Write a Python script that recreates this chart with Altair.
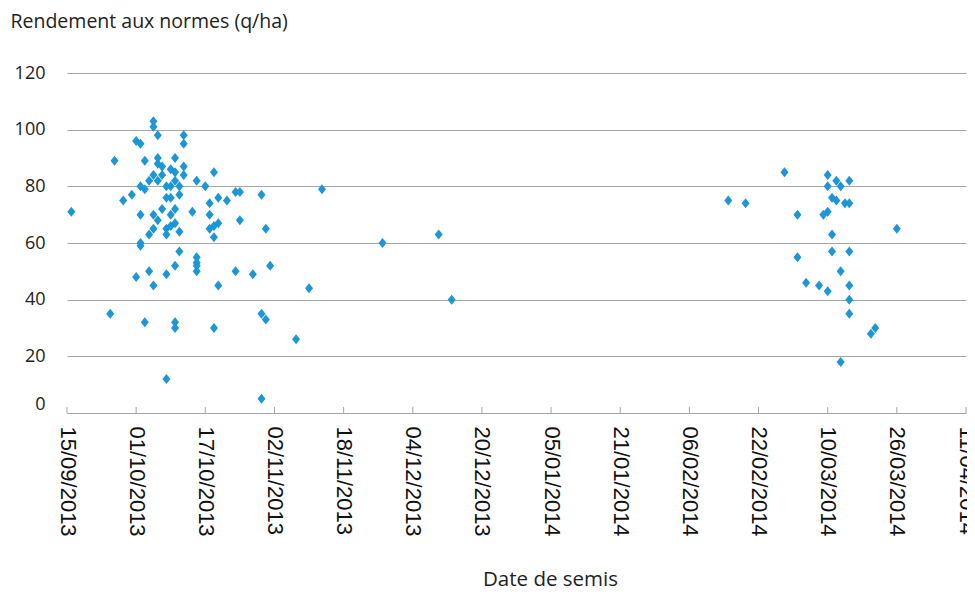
import altair as alt
import pandas as pd

# Sowing dates and yields
sow_dates = [
    "2013-09-16", "2013-09-26", "2013-09-25", "2013-09-28", "2013-09-30",
    "2013-10-01", "2013-10-02", "2013-10-02", "2013-10-03", "2013-10-03",
    "2013-10-02", "2013-10-02", "2013-10-02", "2013-10-01", "2013-10-03",
    "2013-10-04", "2013-10-04", "2013-10-04", "2013-10-05", "2013-10-05",
    "2013-10-05", "2013-10-05", "2013-10-05", "2013-10-05", "2013-10-06",
    "2013-10-06", "2013-10-06", "2013-10-06", "2013-10-06", "2013-10-07",
    "2013-10-07", "2013-10-07", "2013-10-08", "2013-10-08", "2013-10-08",
    "2013-10-08", "2013-10-08", "2013-10-08", "2013-10-09", "2013-10-09",
    "2013-10-09", "2013-10-09", "2013-10-09", "2013-10-10", "2013-10-10",
    "2013-10-10", "2013-10-10", "2013-10-10", "2013-10-10", "2013-10-10",
    "2013-10-10", "2013-10-11", "2013-10-11", "2013-10-11", "2013-10-11",
    "2013-10-12", "2013-10-12", "2013-10-12", "2013-10-12", "2013-10-14",
    "2013-10-15", "2013-10-15", "2013-10-15", "2013-10-15", "2013-10-15",
    "2013-10-17", "2013-10-18", "2013-10-18", "2013-10-18", "2013-10-19",
    "2013-10-19", "2013-10-19", "2013-10-19", "2013-10-20", "2013-10-20",
    "2013-10-20", "2013-10-22", "2013-10-24", "2013-10-25", "2013-10-25",
    "2013-10-24", "2013-10-28", "2013-10-30", "2013-10-31", "2013-11-01",
    "2013-10-30", "2013-10-31", "2013-10-30", "2013-11-07", "2013-11-10",
    "2013-11-13", "2013-11-27", "2013-12-10", "2013-12-13",
    "2014-02-15", "2014-02-19", "2014-02-28", "2014-03-03", "2014-03-03",
    "2014-03-05", "2014-03-08", "2014-03-09", "2014-03-10", "2014-03-10",
    "2014-03-10", "2014-03-10", "2014-03-11", "2014-03-11", "2014-03-11",
    "2014-03-12", "2014-03-12", "2014-03-13", "2014-03-13", "2014-03-13",
    "2014-03-14", "2014-03-15", "2014-03-15", "2014-03-15", "2014-03-15",
    "2014-03-15", "2014-03-15", "2014-03-20", "2014-03-21", "2014-03-26",
]
yields = [
    71, 89, 35, 75, 77,
    96, 95, 80, 79, 89,
    70, 60, 59, 48, 32,
    82, 63, 50, 84, 103,
    101, 70, 65, 45, 98,
    90, 88, 82, 68, 87,
    84, 72, 80, 76, 65,
    63, 49, 12, 86, 80,
    76, 70, 66, 90, 85,
    82, 72, 67, 52, 32,
    30, 80, 77, 57, 64,
    98, 95, 87, 84, 71,
    82, 55, 53, 52, 50,
    80, 74, 70, 65, 85,
    66, 62, 30, 76, 67,
    45, 75, 78, 78, 68,
    50, 49, 77, 65, 52,
    35, 33, 5, 26, 44,
    79, 60, 63, 40,
    75, 74, 85, 70, 55,
    46, 45, 70, 71, 84,
    80, 43, 76, 63, 57,
    75, 82, 80, 50, 18,
    74, 74, 82, 57, 45,
    40, 35, 28, 30, 65,
]

tick_dates = [
    "2013-09-15", "2013-10-01", "2013-10-17", "2013-11-02", "2013-11-18",
    "2013-12-04", "2013-12-20", "2014-01-05", "2014-01-21", "2014-02-06",
    "2014-02-22", "2014-03-10", "2014-03-26", "2014-04-11",
]
y_ticks = [0, 20, 40, 60, 80, 100, 120]

df = pd.DataFrame({"date": sow_dates, "rdt": yields})
ticks_df = pd.DataFrame({"date": tick_dates})


def to_ms(s):
    return int(pd.Timestamp(s, tz="UTC").timestamp() * 1000)


tick_ms = [to_ms(s) for s in tick_dates]

GREY = "#a6a6a6"
BLUE = "#1b96d6"

xscale = alt.Scale(type="utc", domain=[tick_ms[0], tick_ms[-1]])
xaxis = alt.Axis(
    values=tick_ms,
    labelExpr="utcFormat(datum.value, '%d/%m/%Y')",
    labelAngle=90,
    labelAlign="left",
    labelBaseline="middle",
    ticks=False,
    tickSize=0,
    grid=False,
    domainColor=GREY,
    domainWidth=1,
    labelFont="Liberation Sans",
    labelFontSize=22,
    labelPadding=13,
    labelColor="#111111",
    labelOverlap=False,
    labelFlush=False,
    labelBound=False,
    title="Date de semis",
    titleFont="Open Sans",
    titleFontSize=20.5,
    titleFontWeight="normal",
    titleColor="#222222",
    titleX=483,
    titleY=172,
    titleAlign="center",
    titleBaseline="alphabetic",
)
yaxis = alt.Axis(
    values=y_ticks,
    domain=False,
    ticks=False,
    tickSize=0,
    grid=True,
    gridColor=GREY,
    gridWidth=1,
    labelPadding=22,
    labelFont="Open Sans",
    labelFontSize=18,
    labelColor="#222222",
    labelBaseline=alt.ExprRef("datum.value === 0 ? 'bottom' : 'middle'"),
    title="Rendement aux normes (q/ha)",
    titleAngle=0,
    titleX=-57,
    titleY=-51.5,
    titleAlign="left",
    titleBaseline="middle",
    titleFont="Open Sans",
    titleFontSize=19.5,
    titleFontWeight="normal",
    titleColor="#222222",
)

tick_rules = alt.Chart(ticks_df).mark_rule(color=GREY, strokeWidth=1).encode(
    x=alt.X("date:T", scale=xscale, axis=xaxis),
    y=alt.value(340),
    y2=alt.value(334),
)

points = alt.Chart(df).mark_point(
    shape="M0,-1L0.8,0L0,1L-0.8,0Z",
    filled=True,
    size=100,
    color=BLUE,
    opacity=1,
).encode(
    x=alt.X("date:T", scale=xscale, axis=xaxis),
    y=alt.Y("rdt:Q", scale=alt.Scale(domain=[0, 120], nice=False, zero=True), axis=yaxis),
)

chart = alt.layer(tick_rules, points).properties(
    width=899,
    height=340,
    autosize=alt.AutoSizeParams(type="none"),
    padding={"left": 59, "top": 65, "right": 1, "bottom": 179},
    background="white",
).configure_view(stroke=None)

chart.save("out.html", embed_options={"renderer": "svg", "actions": False})
